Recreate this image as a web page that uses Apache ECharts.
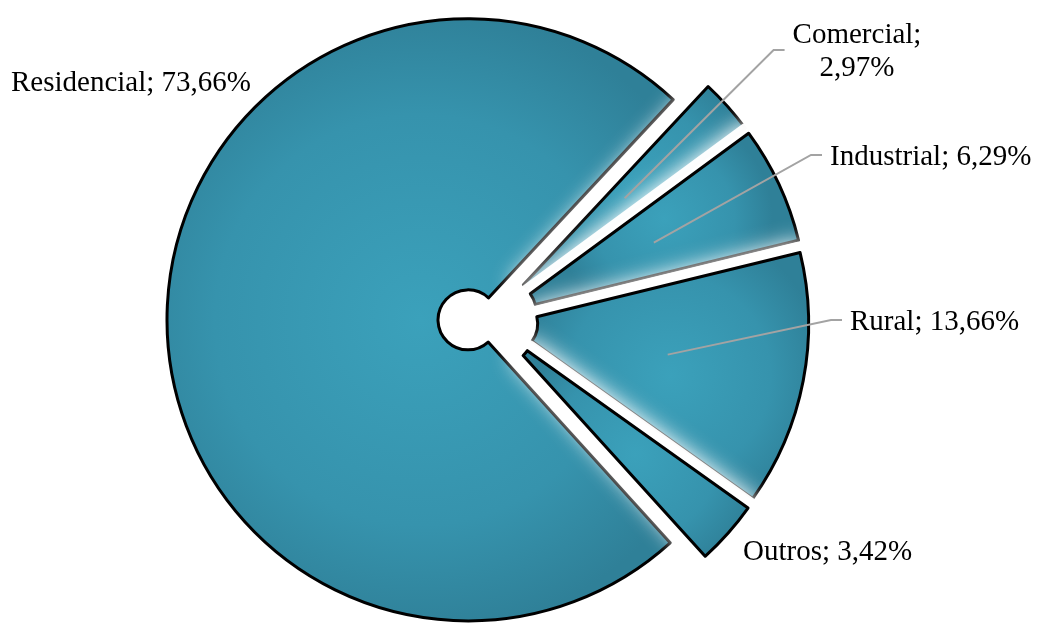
<!DOCTYPE html>
<html>
<head>
<meta charset="utf-8">
<script src="https://cdn.jsdelivr.net/npm/echarts@6/dist/echarts.min.js"></script>
<style>
  html, body { margin: 0; padding: 0; background: #ffffff; }
  #chart { width: 1037px; height: 624px; }
</style>
</head>
<body>
<div id="chart"></div>
<script>
// ---- data ----
const categories = ['Residencial', 'Comercial', 'Industrial', 'Rural', 'Outros'];
const values = [73.66, 2.97, 6.29, 13.66, 3.42];

// ---- layout (not data) ----
const CENTER = [488, 320];
const RADIUS = [30, 301];
const EXPLODE = 20;
const START_ANGLE = -47.8;
const WRAPPED = ['Comercial'];
const LABEL_ANCHORS = {
  Residencial: [131, 83, 'center'],
  Comercial: [857, 52, 'center'],
  Industrial: [830, 157, 'left'],
  Rural: [850, 322, 'left'],
  Outros: [743, 552, 'left']
};
const WITH_LEADER = ['Comercial', 'Industrial', 'Rural'];
const LEADER_START_R = 183;

const total = values.reduce((a, b) => a + b, 0);
function midAngle(i) {
  let cum = 0;
  for (let k = 0; k < i; k++) cum += values[k];
  const a = START_ANGLE - (cum + values[i] / 2) / total * 360;
  return a * Math.PI / 180;
}
function fmt(v) { return v.toFixed(2).replace('.', ',') + '%'; }

const sliceStyle = {
  color: {
    type: 'radial', x: 0.5, y: 0.5, r: 0.62,
    colorStops: [
      { offset: 0, color: '#3BA1BB' },
      { offset: 0.65, color: '#3693AD' },
      { offset: 1, color: '#2F8098' }
    ]
  },
  borderColor: '#000000',
  borderWidth: 3,
  shadowBlur: 0
};
const glowStyle = {
  color: '#ffffff',
  borderColor: 'rgba(255,255,255,0.97)',
  borderWidth: 22,
  shadowBlur: 22,
  shadowColor: 'rgba(255,255,255,1)'
};
const hiddenStyle = {
  color: 'rgba(0,0,0,0)',
  borderWidth: 0,
  shadowBlur: 0
};

function pieSeries(visibleIndex, style, z) {
  return {
    type: 'pie',
    silent: true,
    z: z,
    center: CENTER,
    radius: RADIUS,
    startAngle: START_ANGLE,
    clockwise: true,
    selectedMode: 'multiple',
    selectedOffset: EXPLODE,
    avoidLabelOverlap: false,
    emphasis: { disabled: true, scale: false },
    label: { show: false },
    labelLine: { show: false },
    data: categories.map((c, i) => {
      const st = i === visibleIndex ? style : hiddenStyle;
      return { name: c, value: values[i], selected: true, itemStyle: st, select: { itemStyle: st } };
    })
  };
}

const series = [];
let z = 1;
categories.forEach((c, i) => {
  if (i > 0) series.push(pieSeries(i, glowStyle, z++));
  series.push(pieSeries(i, sliceStyle, z++));
});

// label series (transparent slices, only labels + leader lines)
series.push({
  type: 'pie',
  silent: true,
  z: 50,
  center: CENTER,
  radius: RADIUS,
  startAngle: START_ANGLE,
  clockwise: true,
  selectedMode: false,
  avoidLabelOverlap: false,
  emphasis: { disabled: true, scale: false },
  itemStyle: hiddenStyle,
  label: {
    show: true,
    position: 'outside',
    fontFamily: '"Liberation Serif", "Times New Roman", serif',
    fontSize: 29,
    lineHeight: 33,
    color: '#000000',
    formatter: p => p.name + ';' + (WRAPPED.includes(p.name) ? '\n' : ' ') + fmt(p.value)
  },
  labelLine: {
    show: true,
    lineStyle: { color: '#A3A3A3', width: 2 }
  },
  labelLayout: function (params) {
    const i = params.dataIndex;
    const name = categories[i];
    const a = LABEL_ANCHORS[name];
    const res = { x: a[0], y: a[1], align: a[2], verticalAlign: 'middle' };
    if (WITH_LEADER.includes(name)) {
      const ang = midAngle(i);
      const sx = CENTER[0] + LEADER_START_R * Math.cos(ang);
      const sy = CENTER[1] - LEADER_START_R * Math.sin(ang);
      const left = a[2] === 'center' ? a[0] - params.labelRect.width / 2 : a[0];
      const ex = left - 8;
      const ey = a[1] - 2;
      res.labelLinePoints = [[sx, sy], [ex - 11, ey], [ex, ey]];
    }
    return res;
  },
  data: categories.map((c, i) => ({
    name: c,
    value: values[i],
    labelLine: { show: WITH_LEADER.includes(c) }
  }))
});

const chart = echarts.init(document.getElementById('chart'), null, { renderer: 'canvas' });
chart.setOption({
  animation: false,
  backgroundColor: '#ffffff',
  series: series
});
</script>
</body>
</html>
